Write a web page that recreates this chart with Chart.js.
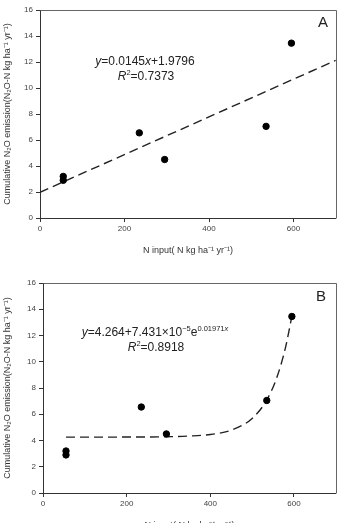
<!DOCTYPE html>
<html><head><meta charset="utf-8">
<script src="https://cdn.jsdelivr.net/npm/chart.js@4/dist/chart.umd.min.js"></script>
<style>
html,body{margin:0;padding:0;background:#fff;overflow:hidden;width:340px;height:523px;}
canvas{position:absolute;left:0;}
#cA{top:0;}
#cB{top:260px;}
</style></head>
<body>
<canvas id="cA" width="340" height="260"></canvas>
<canvas id="cB" width="340" height="275"></canvas>
<script>
// Observed data
const nInput = [55, 55, 235, 295, 535, 595];
const n2oEmission = [3.2, 2.9, 6.55, 4.5, 7.05, 13.45];
// Fitted lines
const linearFitX = [0, 700];
const linearFitY = [1.98, 12.13];
const expFitX = [55, 150, 250, 300, 350, 400, 450, 500, 535, 560, 580, 595];
const expFitY = [4.26, 4.26, 4.27, 4.29, 4.34, 4.46, 4.79, 5.68, 7.09, 8.89, 11.12, 13.47];
// Axis ticks
const xTicks = [0, 200, 400, 600];
const yTicks = [0, 2, 4, 6, 8, 10, 12, 14, 16];
const xTitle = 'N input( N kg ha\u207B\u00B9 yr\u207B\u00B9)';
const yTitle = 'Cumulative N\u2082O emission(N\u2082O-N kg ha\u207B\u00B9 yr\u207B\u00B9)';

const FONT = '"Liberation Sans", Arial, sans-serif';

function toXY(xs, ys){ return xs.map((x,i)=>({x:x, y:ys[i]})); }

function drawRich(ctx, segs, cx, cy){
  let total = 0;
  segs.forEach(s=>{ ctx.font = (s.italic?'italic ':'') + s.size + 'px ' + FONT; s.w = ctx.measureText(s.t).width; total += s.w; });
  let x = cx - total/2;
  ctx.textBaseline = 'middle';
  ctx.textAlign = 'left';
  segs.forEach(s=>{ ctx.font = (s.italic?'italic ':'') + s.size + 'px ' + FONT; ctx.fillText(s.t, x, cy + (s.dy||0)); x += s.w; });
}

function makeChart(id, fitData, yAxisWidth, topPad, annot){
  const framePlugin = {
    id: 'frame',
    afterDraw(chart){
      const ctx = chart.ctx, a = chart.chartArea;
      ctx.save();
      ctx.strokeStyle = '#666';
      ctx.lineWidth = 1;
      ctx.beginPath();
      ctx.moveTo(Math.round(a.left)+0.5, Math.round(a.top)+0.5);
      ctx.lineTo(Math.round(a.right)+0.5, Math.round(a.top)+0.5);
      ctx.lineTo(Math.round(a.right)+0.5, Math.round(a.bottom)+0.5);
      ctx.stroke();
      ctx.fillStyle = '#222';
      annot(ctx, a);
      ctx.restore();
    }
  };
  const tickCb = v => v;
  return new Chart(document.getElementById(id), {
    type: 'scatter',
    data: {
      datasets: [
        { data: toXY(nInput, n2oEmission), backgroundColor: '#000', borderColor: '#000', pointRadius: 3.2, pointHoverRadius: 3.2, order: 1 },
        { type: 'line', data: fitData, borderColor: '#222', borderWidth: 1.4, borderDash: [9, 5], pointRadius: 0, fill: false, cubicInterpolationMode: 'monotone', order: 2 }
      ]
    },
    options: {
      responsive: false, animation: false,
      layout: { padding: { top: topPad, right: 4, left: 0, bottom: 0 } },
      plugins: { legend: { display: false }, tooltip: { enabled: false } },
      scales: {
        x: {
          type: 'linear', min: 0, max: 700,
          afterBuildTicks: s => { s.ticks = xTicks.map(v=>({value:v})); },
          afterFit: s => { s.height = 42; },
          grid: { display: true, drawOnChartArea: false, drawTicks: true, tickLength: 4, color: '#333' },
          border: { color: '#333' },
          ticks: { color: '#444', font: { size: 8, family: FONT }, padding: 2, maxRotation: 0, callback: tickCb },
          title: { display: true, text: xTitle, color: '#333', font: { size: 9, family: FONT }, padding: { top: 8 } }
        },
        y: {
          type: 'linear', min: 0, max: 16,
          afterBuildTicks: s => { s.ticks = yTicks.map(v=>({value:v})); },
          afterFit: s => { s.width = yAxisWidth; },
          grid: { display: true, drawOnChartArea: false, drawTicks: true, tickLength: 4, color: '#333' },
          border: { color: '#333' },
          ticks: { color: '#444', font: { size: 8, family: FONT }, padding: 3, callback: tickCb },
          title: { display: true, text: yTitle, color: '#333', font: { size: 9, family: FONT }, padding: { top: 2, bottom: 2 } }
        }
      }
    },
    plugins: [framePlugin]
  });
}

makeChart('cA', toXY(linearFitX, linearFitY), 40, 10, (ctx, a)=>{
  drawRich(ctx, [
    {t:'y', size:12, italic:true},
    {t:'=0.0145', size:12},
    {t:'x', size:12, italic:true},
    {t:'+1.9796', size:12}
  ], 145, 62);
  drawRich(ctx, [
    {t:'R', size:12, italic:true},
    {t:'2', size:7.5, dy:-4},
    {t:'=0.7373', size:12}
  ], 146, 77);
  drawRich(ctx, [{t:'A', size:15}], 323, 23);
});

makeChart('cB', toXY(expFitX, expFitY), 43, 23, (ctx, a)=>{
  drawRich(ctx, [
    {t:'y', size:12, italic:true},
    {t:'=4.264+7.431\u00D710', size:12},
    {t:'\u22125', size:7.5, dy:-4},
    {t:'e', size:12},
    {t:'0.01971', size:7.5, dy:-4},
    {t:'x', size:7.5, italic:true, dy:-4}
  ], 155, 73);
  drawRich(ctx, [
    {t:'R', size:12, italic:true},
    {t:'2', size:7.5, dy:-4},
    {t:'=0.8918', size:12}
  ], 156, 88);
  drawRich(ctx, [{t:'B', size:15}], 321, 37);
});
</script>
</body></html>
